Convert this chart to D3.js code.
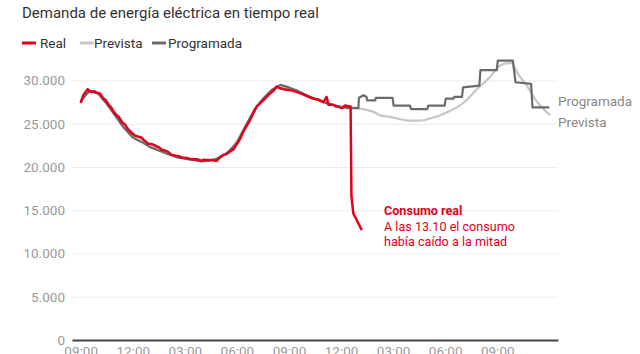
<!DOCTYPE html>
<html><head><meta charset="utf-8">
<script src="https://cdn.jsdelivr.net/npm/d3@7"></script>
<style>
html,body{margin:0;padding:0;background:#fff;}
svg{display:block;font-family:Roboto,"Liberation Sans",sans-serif;}
</style></head>
<body><svg id="c" width="640" height="354"></svg>
<script>
// hours since 21:00 (day before)
const xTickHours = [0,3,6,9,12,15,18,21,24];
const xTickLabels = ["09:00","12:00","03:00","06:00","09:00","12:00","03:00","06:00","09:00"];
const yTicks = [0,5000,10000,15000,20000,25000,30000];

const realHours = [0,0.15,0.4,0.5,0.63,0.8,0.92,1.11,1.3,1.45,1.59,1.75,1.88,2.1,2.2,2.36,2.55,2.74,2.85,2.95,3.13,3.35,3.51,3.7,3.89,4.1,4.28,4.4,4.5,4.67,4.85,5.0,5.24,5.5,5.65,5.82,6.1,6.25,6.4,6.7,6.97,7.1,7.25,7.55,7.84,8.0,8.22,8.4,8.6,8.79,9.08,9.2,9.37,9.55,9.75,10.14,10.3,10.52,10.91,11.1,11.29,11.5,11.67,12.0,12.25,12.55,12.82,13.1,13.25,13.4,13.7,13.98,14.17,14.27,14.55,14.7,14.8,15.04,15.23,15.47,15.55,15.6,15.71,15.9,16.19];
const realValues = [27400,28300,29000,28800,28700,28750,28600,28500,27900,27700,27200,26900,26400,25900,25800,25200,24900,24300,24100,23900,23600,23500,23400,23000,22700,22650,22500,22350,22300,22000,21900,21800,21400,21300,21250,21100,21050,20950,20900,20900,20700,20850,20800,20800,20700,21100,21400,21500,21800,22000,22900,23300,24100,24700,25400,27000,27300,27700,28500,28800,29300,29100,29000,28900,28800,28600,28400,28150,28000,27900,27800,27500,28100,27200,27200,27000,27000,26800,27100,27000,27000,16600,14600,13900,12700];

const prevHours = [0,0.5,1,1.5,2,2.5,3,3.5,4,4.5,5,5.5,6,6.5,7,7.5,8,8.5,9,9.5,10,10.5,11,11.5,12,12.5,13,13.5,14,14.5,15,15.57,15.95,16.84,17.24,17.82,19.03,19.55,20.12,21.09,22.04,22.89,23.58,24.15,24.62,24.85,25.12,25.7,26.27,27.04];
const prevValues = [27600,28600,28500,27600,26300,25000,24000,23200,22600,22100,21600,21200,21000,20850,20750,20800,21100,21800,23000,24800,26500,27800,28800,29200,29000,28700,28300,27900,27500,27200,27000,26900,26800,26400,26000,25800,25350,25370,25600,26300,27400,29100,30400,31700,32000,32000,31000,29400,27600,26000];

const progHours = [0,0.5,1,1.5,2,2.5,3,3.5,4,4.5,5,5.5,6,6.5,7,7.5,8,8.5,9,9.5,10,10.5,11,11.5,12,12.5,13,13.5,14,14.5,15,15.5,16,16.03,16.3,16.47,16.5,16.97,17,17.97,18.03,18.97,19.03,19.97,20.03,20.97,21.03,21.47,21.53,21.97,22.03,22.97,23.03,23.97,24.03,24.9,25.05,25.95,26.03,27];
const progValues = [27600,28800,28500,27300,25900,24500,23400,22900,22300,21900,21500,21150,20950,20800,20650,20750,21050,21700,22800,24700,26600,27900,28900,29500,29200,28800,28300,27900,27500,27200,26900,26800,26800,28000,28300,28100,27700,27700,28000,28000,27100,27100,26700,26700,27100,27100,27900,27900,28100,28100,29200,29400,31200,31200,32300,32300,29800,29600,26900,26900];

const svg = d3.select("#c");
const x = d3.scaleLinear().domain([-0.5,27.5]).range([72,558]);
const y = d3.scaleLinear().domain([0,30000]).range([340,80.5]);
const fmt = d3.formatLocale({decimal:",",thousands:".",grouping:[3],currency:["","€"]}).format(",d");

svg.append("text").attr("x",22).attr("y",18).attr("fill","#333").attr("font-size",15).text("Demanda de energía eléctrica en tiempo real");

// legend
const legend = [["Real","#e2001a",22,40],["Prevista","#c6c6c6",80,94],["Programada","#6b6b6b",152,168]];
legend.forEach(([t,c,lx,tx])=>{
  svg.append("line").attr("x1",lx).attr("x2",lx+14).attr("y1",43).attr("y2",43).attr("stroke",c).attr("stroke-width",3);
  svg.append("text").attr("x",tx).attr("y",47.5).attr("font-size",13.5).attr("fill","#333").text(t);
});

// y axis grid
const gy = svg.append("g").attr("transform","translate(72,0)")
  .call(d3.axisLeft(y).tickValues(yTicks).tickSize(-486).tickPadding(7).tickFormat(fmt));
gy.select(".domain").remove();
gy.selectAll(".tick line").attr("stroke","#ebebeb");
gy.selectAll(".tick text").attr("fill","#9a9a9a").attr("font-size",13.5).attr("font-family","Roboto,sans-serif");

// x axis
const gx = svg.append("g").attr("transform","translate(0,340)")
  .call(d3.axisBottom(x).tickValues(xTickHours).tickSize(0).tickPadding(6).tickFormat((d,i)=>xTickLabels[i]));
gx.select(".domain").attr("stroke","#444").attr("stroke-width",2);
gx.selectAll(".tick text").attr("fill","#9a9a9a").attr("font-size",13.5).attr("font-family","Roboto,sans-serif");

const lineP = d3.line().x((d,i)=>x(prevHours[i])).y((d,i)=>y(prevValues[i])).curve(d3.curveMonotoneX);
svg.append("path").attr("d",lineP(prevValues)).attr("fill","none").attr("stroke","#c6c6c6").attr("stroke-width",2.2);

const lineG = d3.line().x((d,i)=>x(progHours[i])).y((d,i)=>y(progValues[i]));
svg.append("path").attr("d",lineG(progValues)).attr("fill","none").attr("stroke","#6b6b6b").attr("stroke-width",2.2).attr("stroke-linejoin","round");

const lineR = d3.line().x((d,i)=>x(realHours[i])).y((d,i)=>y(realValues[i]));
svg.append("path").attr("d",lineR(realValues)).attr("fill","none").attr("stroke","#e2001a").attr("stroke-width",2.5).attr("stroke-linejoin","round");

// end labels
svg.append("text").attr("x",558).attr("y",105.5).attr("font-size",13.5).attr("fill","#888").text("Programada");
svg.append("text").attr("x",558).attr("y",127).attr("font-size",13.5).attr("fill","#888").text("Prevista");

// annotation
const ann = svg.append("g").attr("fill","#e2001a").attr("font-size",12.6);
ann.append("text").attr("x",384).attr("y",215).attr("font-weight","bold").text("Consumo real");
ann.append("text").attr("x",384).attr("y",230.5).text("A las 13.10 el consumo");
ann.append("text").attr("x",384).attr("y",246).text("había caído a la mitad");
</script></body></html>
